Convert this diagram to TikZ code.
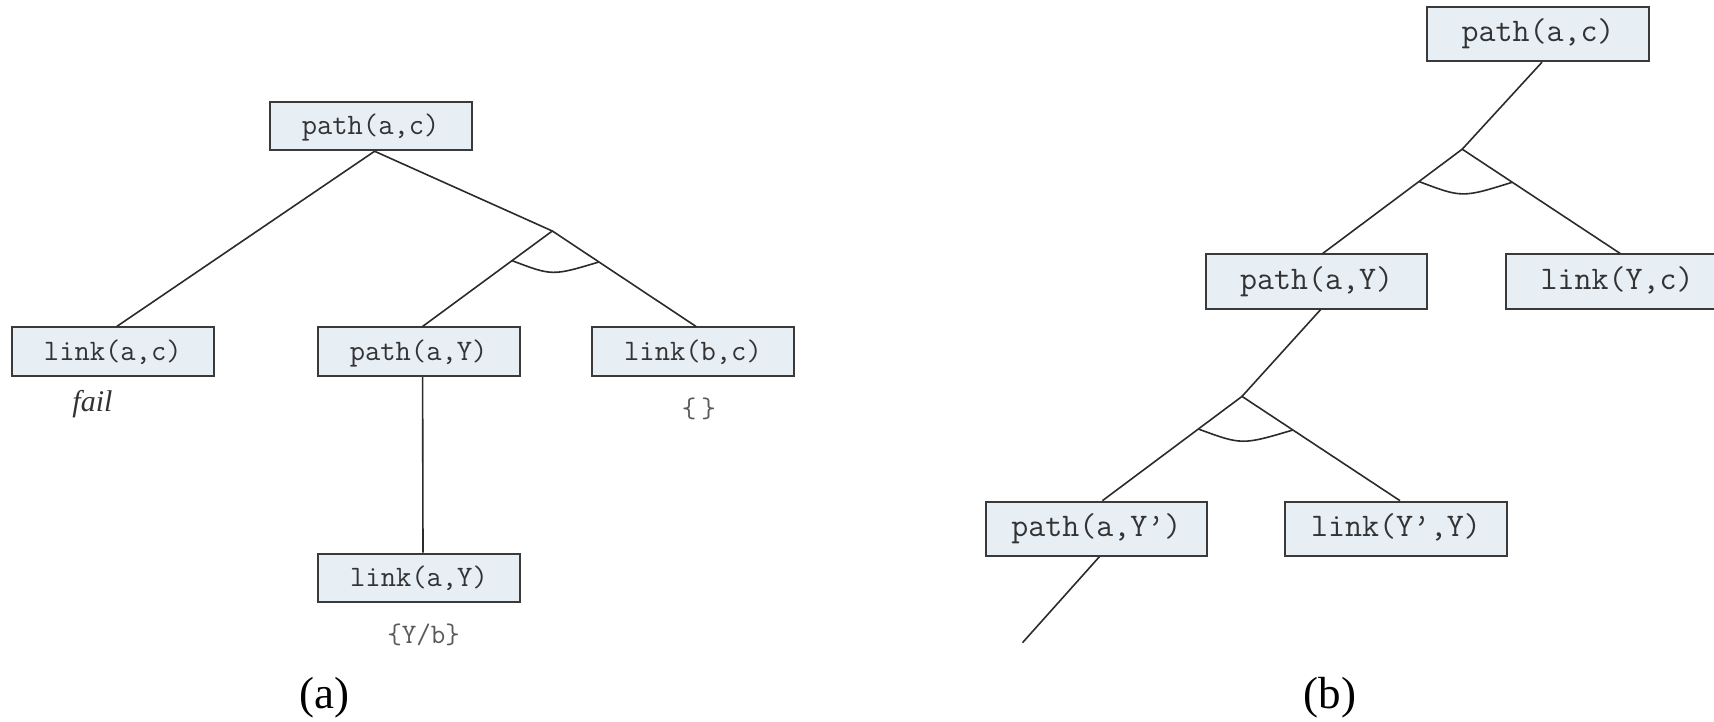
\documentclass[tikz,border=0pt]{standalone}
\usepackage{fontspec}
\setmainfont{Liberation Serif}
\usetikzlibrary{calc}
\definecolor{boxfill}{HTML}{E7EEF4}
\definecolor{boxline}{HTML}{3A3A3A}
\definecolor{edgecol}{HTML}{2B2B2B}
\definecolor{txt}{HTML}{333333}
\definecolor{substcol}{HTML}{5A5A5A}
\tikzset{
  goalL/.style={draw=boxline, fill=boxfill, line width=2pt, minimum width=202pt, minimum height=48.5pt, inner sep=0pt, text=txt, font=\ttfamily\fontsize{29.7}{34}\selectfont, text height=17.8pt, text depth=0pt},
  goalR/.style={goalL, minimum width=221.5pt, minimum height=54pt, font=\ttfamily\fontsize{33}{38}\selectfont, text height=15.4pt, text depth=0pt},
  edge/.style={draw=edgecol, line width=1.6pt},
  andarc/.style={draw=edgecol, line width=1.6pt},
  substlabel/.style={text=substcol, font=\ttfamily\fontsize{28.2}{32}\selectfont, inner sep=0pt},
  note/.style={text=txt, font=\itshape\fontsize{30}{34}\selectfont, inner sep=0pt},
  caption/.style={text=black, font=\fontsize{45}{50}\selectfont, inner sep=0pt},
}
\begin{document}
\begin{tikzpicture}[x=1pt,y=-1pt]
\useasboundingbox (0,0) rectangle (1714,722);
% ---------- (a) ----------
\node[goalL] (lpac) at (370.6,126) {path(a,c)};
\node[goalL] (llac) at (112.8,351.7) {link(a,c)};
\node[goalL] (lpaY) at (418.6,351.7) {path(a,Y)};
\node[goalL] (llbc) at (693,351.7) {link(b,c)};
\node[goalL] (llaY) at (419,577.8) {link(a,Y)};
\node[note] (fail) at (92.5,404) {fail};
\node[substlabel] (sbc) at (698.8,409) {\{\hspace{5pt}\}};
\node[substlabel] (sab) at (423.7,635) {\{Y/b\}};
\node[caption] (capa) at (324.7,698) {(a)};
\coordinate (lj) at (552.3,231);
\draw[edge] ([xshift=4pt]lpac.south) -- ([xshift=4pt]llac.north);
\draw[edge] ([xshift=4pt]lpac.south) -- (lj);
\draw[edge] ([xshift=4pt]lpaY.north) -- (lj) -- ([xshift=3pt]llbc.north);
\draw[edge] ([xshift=4pt]lpaY.south) -- ([xshift=4pt]llaY.north);
\draw[andarc] ($(lj)!50pt!([xshift=4pt]lpaY.north)$) .. controls ($(lj)+(0,45)$) .. ($(lj)!56pt!([xshift=3pt]llbc.north)$);
% ---------- (b) ----------
\node[goalR] (rpac) at (1538,34.2) {path(a,c)};
\node[goalR] (rpaY) at (1316.7,281.5) {path(a,Y)};
\node[goalR] (rlYc) at (1617.2,281.5) {link(Y,c)};
\node[goalR] (rpaYp) at (1096.4,528.7) {path(a,Y’)};
\node[goalR] (rlYY) at (1396,528.7) {link(Y’,Y)};
\node[caption] (capb) at (1330,698) {(b)};
\coordinate (rj1) at (1462.2,149.2);
\coordinate (rj2) at (1242,396.4);
\coordinate (tail) at (1022.5,642.7);
\draw[edge] ([xshift=4pt]rpac.south) -- (rj1);
\draw[edge] ([xshift=6pt]rpaY.north) -- (rj1) -- ([xshift=3pt]rlYc.north);
\draw[edge] ([xshift=4pt]rpaY.south) -- (rj2);
\draw[edge] ([xshift=6pt]rpaYp.north) -- (rj2) -- ([xshift=4pt]rlYY.north);
\draw[edge] ([xshift=3pt]rpaYp.south) -- (tail);
\draw[andarc] ($(rj1)!54pt!([xshift=6pt]rpaY.north)$) .. controls ($(rj1)+(0,48.7)$) .. ($(rj1)!60pt!([xshift=3pt]rlYc.north)$);
\draw[andarc] ($(rj2)!54.5pt!([xshift=6pt]rpaYp.north)$) .. controls ($(rj2)+(0,48.7)$) .. ($(rj2)!61pt!([xshift=4pt]rlYY.north)$);
\end{tikzpicture}
\end{document}
